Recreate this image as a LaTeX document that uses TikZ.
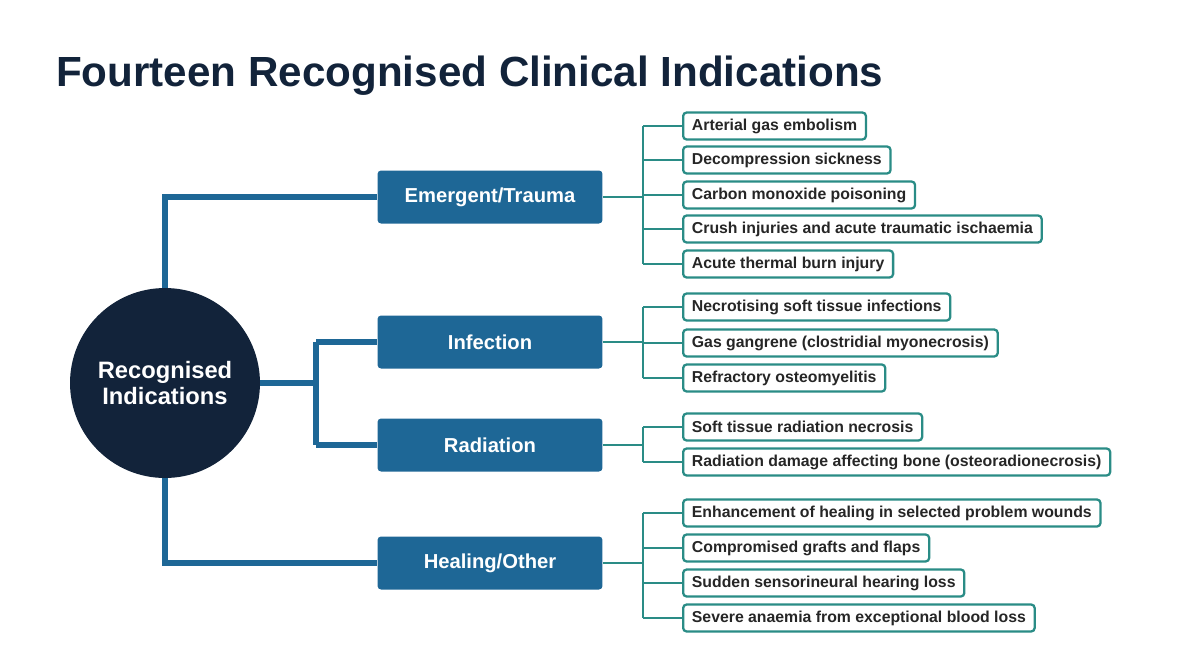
\documentclass[tikz,border=0pt]{standalone}
\usepackage{fontspec}
\setmainfont{Liberation Sans}
\begin{document}
\begin{tikzpicture}[x=0.02cm,y=-0.02cm,
 leaf/.style={draw=tealc,line width=1.3pt,fill=white,rounded corners=2pt,anchor=west,font=\fontsize{9}{11}\selectfont\bfseries,text=black!85,minimum height=0.54cm,inner xsep=5pt},
 cat/.style={fill=catblue,rounded corners=2pt,minimum width=4.5cm,minimum height=1.06cm,font=\fontsize{11.5}{13}\selectfont\bfseries,text=white},
 main/.style={draw=catblue,line width=3.2pt},
 sub/.style={draw=tealc,line width=1.2pt}]
\definecolor{navy}{HTML}{12233A}
\definecolor{catblue}{HTML}{1E6796}
\definecolor{tealc}{HTML}{2A8C86}
\useasboundingbox (0,0) rectangle (1200,670);
\node[anchor=west,font=\fontsize{24}{27}\selectfont\bfseries,text=navy] (title) at (50,76) {Fourteen Recognised Clinical Indications};
\coordinate (j1) at (165,197); \coordinate (j2) at (165,563);
\coordinate (j3) at (316,383); \coordinate (j4) at (316,342); \coordinate (j5) at (316,445);
\node[cat] (e) at (490,197) {Emergent/Trauma};
\node[cat] (i) at (490,342) {Infection};
\node[cat] (r) at (490,445) {Radiation};
\node[cat] (h) at (490,563) {Healing/Other};
\draw[main] (165,383) -- (j1) -- (e.west);
\draw[main] (165,383) -- (j2) -- (h.west);
\draw[main] (165,383) -- (j3);
\draw[main] (j4) -- (j5);
\draw[main] (j4) -- (i.west); \draw[main] (j5) -- (r.west);
\node[circle,fill=navy,minimum size=3.8cm,align=center,text=white,font=\fontsize{13.5}{15}\selectfont\bfseries] (c) at (165,383) {Recognised\\Indications};
\node[leaf] (a1) at (682,126) {Arterial gas embolism};
\node[leaf] (a2) at (682,160) {Decompression sickness};
\node[leaf] (a3) at (682,195) {Carbon monoxide poisoning};
\node[leaf] (a4) at (682,229) {Crush injuries and acute traumatic ischaemia};
\node[leaf] (a5) at (682,264) {Acute thermal burn injury};
\node[leaf] (b1) at (682,307) {Necrotising soft tissue infections};
\node[leaf] (b2) at (682,343) {Gas gangrene (clostridial myonecrosis)};
\node[leaf] (b3) at (682,378) {Refractory osteomyelitis};
\node[leaf] (c1) at (682,427) {Soft tissue radiation necrosis};
\node[leaf] (c2) at (682,462) {Radiation damage affecting bone (osteoradionecrosis)};
\node[leaf] (d1) at (682,513) {Enhancement of healing in selected problem wounds};
\node[leaf] (d2) at (682,548) {Compromised grafts and flaps};
\node[leaf] (d3) at (682,583) {Sudden sensorineural hearing loss};
\node[leaf] (d4) at (682,618) {Severe anaemia from exceptional blood loss};
\coordinate (ea) at (643,126); \coordinate (eb) at (643,264); \coordinate (ec) at (643,197);
\draw[sub] (e.east) -- (ec); \draw[sub] (ea) -- (eb);
\foreach \n in {a1,a2,a3,a4,a5} \draw[sub] (ea |- \n.west) -- (\n.west);
\coordinate (ia) at (643,307); \coordinate (ib) at (643,378); \coordinate (ic) at (643,342);
\draw[sub] (i.east) -- (ic); \draw[sub] (ia) -- (ib);
\foreach \n in {b1,b2,b3} \draw[sub] (ia |- \n.west) -- (\n.west);
\coordinate (ra) at (643,427); \coordinate (rb) at (643,462); \coordinate (rc) at (643,445);
\draw[sub] (r.east) -- (rc); \draw[sub] (ra) -- (rb);
\foreach \n in {c1,c2} \draw[sub] (ra |- \n.west) -- (\n.west);
\coordinate (ha) at (643,513); \coordinate (hb) at (643,618); \coordinate (hc) at (643,563);
\draw[sub] (h.east) -- (hc); \draw[sub] (ha) -- (hb);
\foreach \n in {d1,d2,d3,d4} \draw[sub] (ha |- \n.west) -- (\n.west);
\end{tikzpicture}
\end{document}
